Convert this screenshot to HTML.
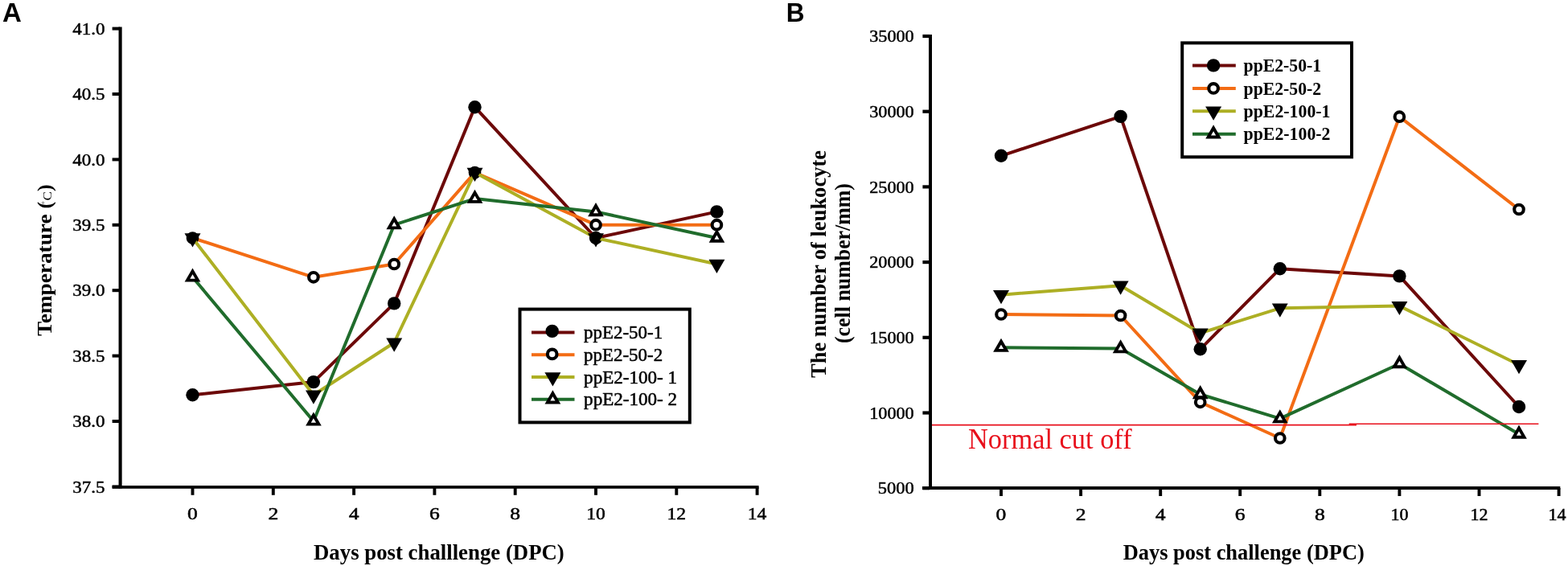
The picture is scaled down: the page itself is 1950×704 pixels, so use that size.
<!DOCTYPE html>
<html><head><meta charset="utf-8"><title>Temperature and leukocyte counts after challenge</title>
<style>html,body{margin:0;padding:0;background:#fff;} svg{display:block;}</style></head>
<body><svg width="1950" height="704" viewBox="0 0 1950 704">
<rect width="1950" height="704" fill="#fff"/>
<text x="3.0" y="27.4" font-family='"Liberation Sans", Arial, sans-serif' font-size="33" font-weight="bold" text-anchor="start" fill="#000" >A</text>
<g stroke="#000" fill="none">
<line x1="149.6" y1="33.5" x2="149.6" y2="607.6" stroke-width="4.1"/>
<line x1="139.6" y1="605.9" x2="943.6" y2="605.9" stroke-width="3.6"/>
<line x1="139.6" y1="35.6" x2="149" y2="35.6" stroke-width="4.0"/>
<line x1="139.6" y1="117.0" x2="149" y2="117.0" stroke-width="4.0"/>
<line x1="139.6" y1="198.4" x2="149" y2="198.4" stroke-width="4.0"/>
<line x1="139.6" y1="279.8" x2="149" y2="279.8" stroke-width="4.0"/>
<line x1="139.6" y1="361.2" x2="149" y2="361.2" stroke-width="4.0"/>
<line x1="139.6" y1="442.6" x2="149" y2="442.6" stroke-width="4.0"/>
<line x1="139.6" y1="524.0" x2="149" y2="524.0" stroke-width="4.0"/>
<line x1="139.6" y1="605.4" x2="149" y2="605.4" stroke-width="4.0"/>
<line x1="239.5" y1="606" x2="239.5" y2="615.8" stroke-width="3.9"/>
<line x1="339.8" y1="606" x2="339.8" y2="615.8" stroke-width="3.9"/>
<line x1="440.1" y1="606" x2="440.1" y2="615.8" stroke-width="3.9"/>
<line x1="540.4" y1="606" x2="540.4" y2="615.8" stroke-width="3.9"/>
<line x1="640.7" y1="606" x2="640.7" y2="615.8" stroke-width="3.9"/>
<line x1="741.0" y1="606" x2="741.0" y2="615.8" stroke-width="3.9"/>
<line x1="841.3" y1="606" x2="841.3" y2="615.8" stroke-width="3.9"/>
<line x1="941.6" y1="606" x2="941.6" y2="615.8" stroke-width="3.9"/>
</g>
<text x="130.5" y="42.8" font-family='"Liberation Serif", "Times New Roman", serif' font-size="21.3" font-weight="normal" text-anchor="end" fill="#000" textLength="40.2" lengthAdjust="spacingAndGlyphs"  stroke="#000" stroke-width="0.5">41.0</text>
<text x="130.5" y="124.2" font-family='"Liberation Serif", "Times New Roman", serif' font-size="21.3" font-weight="normal" text-anchor="end" fill="#000" textLength="40.2" lengthAdjust="spacingAndGlyphs"  stroke="#000" stroke-width="0.5">40.5</text>
<text x="130.5" y="205.6" font-family='"Liberation Serif", "Times New Roman", serif' font-size="21.3" font-weight="normal" text-anchor="end" fill="#000" textLength="40.2" lengthAdjust="spacingAndGlyphs"  stroke="#000" stroke-width="0.5">40.0</text>
<text x="130.5" y="287.0" font-family='"Liberation Serif", "Times New Roman", serif' font-size="21.3" font-weight="normal" text-anchor="end" fill="#000" textLength="40.2" lengthAdjust="spacingAndGlyphs"  stroke="#000" stroke-width="0.5">39.5</text>
<text x="130.5" y="368.4" font-family='"Liberation Serif", "Times New Roman", serif' font-size="21.3" font-weight="normal" text-anchor="end" fill="#000" textLength="40.2" lengthAdjust="spacingAndGlyphs"  stroke="#000" stroke-width="0.5">39.0</text>
<text x="130.5" y="449.8" font-family='"Liberation Serif", "Times New Roman", serif' font-size="21.3" font-weight="normal" text-anchor="end" fill="#000" textLength="40.2" lengthAdjust="spacingAndGlyphs"  stroke="#000" stroke-width="0.5">38.5</text>
<text x="130.5" y="531.2" font-family='"Liberation Serif", "Times New Roman", serif' font-size="21.3" font-weight="normal" text-anchor="end" fill="#000" textLength="40.2" lengthAdjust="spacingAndGlyphs"  stroke="#000" stroke-width="0.5">38.0</text>
<text x="130.5" y="612.6" font-family='"Liberation Serif", "Times New Roman", serif' font-size="21.3" font-weight="normal" text-anchor="end" fill="#000" textLength="40.2" lengthAdjust="spacingAndGlyphs"  stroke="#000" stroke-width="0.5">37.5</text>
<text x="239.5" y="645.8" font-family='"Liberation Serif", "Times New Roman", serif' font-size="20.8" font-weight="normal" text-anchor="middle" fill="#000" textLength="12.8" lengthAdjust="spacingAndGlyphs"  stroke="#000" stroke-width="0.5">0</text>
<text x="339.8" y="645.8" font-family='"Liberation Serif", "Times New Roman", serif' font-size="20.8" font-weight="normal" text-anchor="middle" fill="#000" textLength="12.8" lengthAdjust="spacingAndGlyphs"  stroke="#000" stroke-width="0.5">2</text>
<text x="440.1" y="645.8" font-family='"Liberation Serif", "Times New Roman", serif' font-size="20.8" font-weight="normal" text-anchor="middle" fill="#000" textLength="12.8" lengthAdjust="spacingAndGlyphs"  stroke="#000" stroke-width="0.5">4</text>
<text x="540.4" y="645.8" font-family='"Liberation Serif", "Times New Roman", serif' font-size="20.8" font-weight="normal" text-anchor="middle" fill="#000" textLength="12.8" lengthAdjust="spacingAndGlyphs"  stroke="#000" stroke-width="0.5">6</text>
<text x="640.7" y="645.8" font-family='"Liberation Serif", "Times New Roman", serif' font-size="20.8" font-weight="normal" text-anchor="middle" fill="#000" textLength="12.8" lengthAdjust="spacingAndGlyphs"  stroke="#000" stroke-width="0.5">8</text>
<text x="741.0" y="645.8" font-family='"Liberation Serif", "Times New Roman", serif' font-size="20.8" font-weight="normal" text-anchor="middle" fill="#000" textLength="23.6" lengthAdjust="spacingAndGlyphs"  stroke="#000" stroke-width="0.5">10</text>
<text x="841.3" y="645.8" font-family='"Liberation Serif", "Times New Roman", serif' font-size="20.8" font-weight="normal" text-anchor="middle" fill="#000" textLength="23.6" lengthAdjust="spacingAndGlyphs"  stroke="#000" stroke-width="0.5">12</text>
<text x="941.6" y="645.8" font-family='"Liberation Serif", "Times New Roman", serif' font-size="20.8" font-weight="normal" text-anchor="middle" fill="#000" textLength="23.6" lengthAdjust="spacingAndGlyphs"  stroke="#000" stroke-width="0.5">14</text>
<text x="390.0" y="695.9" font-family='"Liberation Serif", "Times New Roman", serif' font-size="26.5" font-weight="bold" text-anchor="start" fill="#000" textLength="311.8" lengthAdjust="spacingAndGlyphs" >Days post challlenge (DPC)</text>
<g transform="translate(64.4,418) rotate(-90)"><text x="0" y="0" font-family='"Liberation Serif", "Times New Roman", serif' font-size="26" font-weight="bold" text-anchor="start" fill="#000" textLength="151.6" lengthAdjust="spacingAndGlyphs" >Temperature</text><text x="158.6" y="0" font-family='"Liberation Serif", "Times New Roman", serif' font-size="26" font-weight="bold" text-anchor="start" fill="#000" >(</text><text x="164.0" y="-6.5" font-family='"Liberation Serif", "Times New Roman", serif' font-size="9" font-weight="normal" text-anchor="start" fill="#000" >°</text><text x="168.6" y="0" font-family='"Liberation Serif", "Times New Roman", serif' font-size="15.5" font-weight="normal" text-anchor="start" fill="#000" textLength="11.4" lengthAdjust="spacingAndGlyphs" >C</text><text x="180.0" y="0" font-family='"Liberation Serif", "Times New Roman", serif' font-size="26" font-weight="bold" text-anchor="start" fill="#000" >)</text></g>
<polyline points="239.5,491.3 389.9,475.1 490.2,377.4 590.5,133.2 741.0,296.0 891.4,263.4" fill="none" stroke="#6c0808" stroke-width="4.0" stroke-linejoin="round"/><circle cx="239.5" cy="491.3" r="8.2" fill="#000"/><circle cx="389.9" cy="475.1" r="8.2" fill="#000"/><circle cx="490.2" cy="377.4" r="8.2" fill="#000"/><circle cx="590.5" cy="133.2" r="8.2" fill="#000"/><circle cx="741.0" cy="296.0" r="8.2" fill="#000"/><circle cx="891.4" cy="263.4" r="8.2" fill="#000"/>
<polyline points="239.5,296.0 389.9,344.8 490.2,328.5 590.5,214.6 741.0,279.7 891.4,279.7" fill="none" stroke="#f36c14" stroke-width="4.0" stroke-linejoin="round"/><circle cx="239.5" cy="296.0" r="5.8" fill="#fff" stroke="#000" stroke-width="4.1"/><circle cx="389.9" cy="344.8" r="5.8" fill="#fff" stroke="#000" stroke-width="4.1"/><circle cx="490.2" cy="328.5" r="5.8" fill="#fff" stroke="#000" stroke-width="4.1"/><circle cx="590.5" cy="214.6" r="5.8" fill="#fff" stroke="#000" stroke-width="4.1"/><circle cx="741.0" cy="279.7" r="5.8" fill="#fff" stroke="#000" stroke-width="4.1"/><circle cx="891.4" cy="279.7" r="5.8" fill="#fff" stroke="#000" stroke-width="4.1"/>
<polyline points="239.5,296.0 389.9,491.3 490.2,426.2 590.5,214.6 741.0,296.0 891.4,328.5" fill="none" stroke="#adaf24" stroke-width="4.0" stroke-linejoin="round"/><polygon points="229.5,290.2 249.5,290.2 239.5,307.5" fill="#000"/><polygon points="380.0,485.6 399.9,485.6 389.9,502.8" fill="#000"/><polygon points="480.3,420.5 500.2,420.5 490.2,437.7" fill="#000"/><polygon points="580.6,208.8 600.5,208.8 590.5,226.1" fill="#000"/><polygon points="731.0,290.2 751.0,290.2 741.0,307.5" fill="#000"/><polygon points="881.5,322.8 901.4,322.8 891.4,340.0" fill="#000"/>
<polyline points="239.5,344.8 389.9,523.9 490.2,279.7 590.5,247.1 741.0,263.4 891.4,296.0" fill="none" stroke="#206c2c" stroke-width="4.0" stroke-linejoin="round"/><polygon points="233.0,348.6 246.0,348.6 239.5,337.3" fill="#fff" stroke="#000" stroke-width="3.9" stroke-linejoin="miter"/><polygon points="383.5,527.6 396.4,527.6 389.9,516.4" fill="#fff" stroke="#000" stroke-width="3.9" stroke-linejoin="miter"/><polygon points="483.8,283.4 496.7,283.4 490.2,272.2" fill="#fff" stroke="#000" stroke-width="3.9" stroke-linejoin="miter"/><polygon points="584.1,250.9 597.0,250.9 590.5,239.6" fill="#fff" stroke="#000" stroke-width="3.9" stroke-linejoin="miter"/><polygon points="734.5,267.2 747.5,267.2 741.0,255.9" fill="#fff" stroke="#000" stroke-width="3.9" stroke-linejoin="miter"/><polygon points="885.0,299.7 897.9,299.7 891.4,288.5" fill="#fff" stroke="#000" stroke-width="3.9" stroke-linejoin="miter"/>
<rect x="646.5" y="384.6" width="211.3" height="140.8" fill="#fff" stroke="#000" stroke-width="4"/>
<line x1="661" y1="413.5" x2="714.5" y2="413.5" stroke="#6c0808" stroke-width="4.0"/>
<circle cx="686.7" cy="411.9" r="8.2" fill="#000"/>
<line x1="661" y1="441.2" x2="714.5" y2="441.2" stroke="#f36c14" stroke-width="4.0"/>
<circle cx="686.7" cy="440.4" r="5.8" fill="#fff" stroke="#000" stroke-width="4.1"/>
<line x1="661" y1="469.0" x2="714.5" y2="469.0" stroke="#adaf24" stroke-width="4.0"/>
<polygon points="677.4,463.2 697.4,463.2 687.4,480.5" fill="#000"/>
<line x1="661" y1="496.8" x2="714.5" y2="496.8" stroke="#206c2c" stroke-width="4.0"/>
<polygon points="680.9,500.5 693.9,500.5 687.4,489.2" fill="#fff" stroke="#000" stroke-width="3.9" stroke-linejoin="miter"/>
<text x="726.1" y="421.1" font-family='"Liberation Serif", "Times New Roman", serif' font-size="22.5" font-weight="normal" text-anchor="start" fill="#000" textLength="98" lengthAdjust="spacingAndGlyphs" xml:space="preserve" stroke="#000" stroke-width="0.5">ppE2-50-1</text>
<text x="726.1" y="448.9" font-family='"Liberation Serif", "Times New Roman", serif' font-size="22.5" font-weight="normal" text-anchor="start" fill="#000" textLength="98" lengthAdjust="spacingAndGlyphs" xml:space="preserve" stroke="#000" stroke-width="0.5">ppE2-50-2</text>
<text x="726.1" y="476.6" font-family='"Liberation Serif", "Times New Roman", serif' font-size="22.5" font-weight="normal" text-anchor="start" fill="#000" textLength="116" lengthAdjust="spacingAndGlyphs" xml:space="preserve" stroke="#000" stroke-width="0.5">ppE2-100- 1</text>
<text x="726.1" y="504.4" font-family='"Liberation Serif", "Times New Roman", serif' font-size="22.5" font-weight="normal" text-anchor="start" fill="#000" textLength="116" lengthAdjust="spacingAndGlyphs" xml:space="preserve" stroke="#000" stroke-width="0.5">ppE2-100- 2</text>
<text x="977.8" y="27.4" font-family='"Liberation Sans", Arial, sans-serif' font-size="33" font-weight="bold" text-anchor="start" fill="#000" textLength="22.8" lengthAdjust="spacingAndGlyphs" >B</text>
<g stroke="#000" fill="none">
<line x1="1157" y1="43" x2="1157" y2="609" stroke-width="4"/>
<line x1="1147" y1="607" x2="1940.3" y2="607" stroke-width="4"/>
<line x1="1147.4" y1="45.0" x2="1156" y2="45.0" stroke-width="4.2"/>
<line x1="1147.4" y1="138.7" x2="1156" y2="138.7" stroke-width="4.2"/>
<line x1="1147.4" y1="232.4" x2="1156" y2="232.4" stroke-width="4.2"/>
<line x1="1147.4" y1="326.1" x2="1156" y2="326.1" stroke-width="4.2"/>
<line x1="1147.4" y1="419.8" x2="1156" y2="419.8" stroke-width="4.2"/>
<line x1="1147.4" y1="513.5" x2="1156" y2="513.5" stroke-width="4.2"/>
<line x1="1147.4" y1="607.2" x2="1156" y2="607.2" stroke-width="4.2"/>
<line x1="1245.0" y1="607" x2="1245.0" y2="617" stroke-width="3.9"/>
<line x1="1344.1" y1="607" x2="1344.1" y2="617" stroke-width="3.9"/>
<line x1="1443.2" y1="607" x2="1443.2" y2="617" stroke-width="3.9"/>
<line x1="1542.2" y1="607" x2="1542.2" y2="617" stroke-width="3.9"/>
<line x1="1641.3" y1="607" x2="1641.3" y2="617" stroke-width="3.9"/>
<line x1="1740.4" y1="607" x2="1740.4" y2="617" stroke-width="3.9"/>
<line x1="1839.5" y1="607" x2="1839.5" y2="617" stroke-width="3.9"/>
<line x1="1938.6" y1="607" x2="1938.6" y2="617" stroke-width="3.9"/>
</g>
<text x="1136.7" y="52.2" font-family='"Liberation Serif", "Times New Roman", serif' font-size="21.2" font-weight="normal" text-anchor="end" fill="#000" textLength="55.5" lengthAdjust="spacingAndGlyphs"  stroke="#000" stroke-width="0.5">35000</text>
<text x="1136.7" y="145.9" font-family='"Liberation Serif", "Times New Roman", serif' font-size="21.2" font-weight="normal" text-anchor="end" fill="#000" textLength="55.5" lengthAdjust="spacingAndGlyphs"  stroke="#000" stroke-width="0.5">30000</text>
<text x="1136.7" y="239.6" font-family='"Liberation Serif", "Times New Roman", serif' font-size="21.2" font-weight="normal" text-anchor="end" fill="#000" textLength="55.5" lengthAdjust="spacingAndGlyphs"  stroke="#000" stroke-width="0.5">25000</text>
<text x="1136.7" y="333.3" font-family='"Liberation Serif", "Times New Roman", serif' font-size="21.2" font-weight="normal" text-anchor="end" fill="#000" textLength="55.5" lengthAdjust="spacingAndGlyphs"  stroke="#000" stroke-width="0.5">20000</text>
<text x="1136.7" y="427.0" font-family='"Liberation Serif", "Times New Roman", serif' font-size="21.2" font-weight="normal" text-anchor="end" fill="#000" textLength="55.5" lengthAdjust="spacingAndGlyphs"  stroke="#000" stroke-width="0.5">15000</text>
<text x="1136.7" y="520.7" font-family='"Liberation Serif", "Times New Roman", serif' font-size="21.2" font-weight="normal" text-anchor="end" fill="#000" textLength="55.5" lengthAdjust="spacingAndGlyphs"  stroke="#000" stroke-width="0.5">10000</text>
<text x="1136.7" y="614.4" font-family='"Liberation Serif", "Times New Roman", serif' font-size="21.2" font-weight="normal" text-anchor="end" fill="#000" textLength="45" lengthAdjust="spacingAndGlyphs"  stroke="#000" stroke-width="0.5">5000</text>
<text x="1245.0" y="647" font-family='"Liberation Serif", "Times New Roman", serif' font-size="20.5" font-weight="normal" text-anchor="middle" fill="#000" textLength="12.8" lengthAdjust="spacingAndGlyphs"  stroke="#000" stroke-width="0.5">0</text>
<text x="1344.1" y="647" font-family='"Liberation Serif", "Times New Roman", serif' font-size="20.5" font-weight="normal" text-anchor="middle" fill="#000" textLength="12.8" lengthAdjust="spacingAndGlyphs"  stroke="#000" stroke-width="0.5">2</text>
<text x="1443.2" y="647" font-family='"Liberation Serif", "Times New Roman", serif' font-size="20.5" font-weight="normal" text-anchor="middle" fill="#000" textLength="12.8" lengthAdjust="spacingAndGlyphs"  stroke="#000" stroke-width="0.5">4</text>
<text x="1542.2" y="647" font-family='"Liberation Serif", "Times New Roman", serif' font-size="20.5" font-weight="normal" text-anchor="middle" fill="#000" textLength="12.8" lengthAdjust="spacingAndGlyphs"  stroke="#000" stroke-width="0.5">6</text>
<text x="1641.3" y="647" font-family='"Liberation Serif", "Times New Roman", serif' font-size="20.5" font-weight="normal" text-anchor="middle" fill="#000" textLength="12.8" lengthAdjust="spacingAndGlyphs"  stroke="#000" stroke-width="0.5">8</text>
<text x="1740.4" y="647" font-family='"Liberation Serif", "Times New Roman", serif' font-size="20.5" font-weight="normal" text-anchor="middle" fill="#000" textLength="22.0" lengthAdjust="spacingAndGlyphs"  stroke="#000" stroke-width="0.5">10</text>
<text x="1839.5" y="647" font-family='"Liberation Serif", "Times New Roman", serif' font-size="20.5" font-weight="normal" text-anchor="middle" fill="#000" textLength="22.0" lengthAdjust="spacingAndGlyphs"  stroke="#000" stroke-width="0.5">12</text>
<text x="1936.6" y="647" font-family='"Liberation Serif", "Times New Roman", serif' font-size="20.5" font-weight="normal" text-anchor="middle" fill="#000" textLength="22.0" lengthAdjust="spacingAndGlyphs"  stroke="#000" stroke-width="0.5">14</text>
<text x="1396.7" y="695.9" font-family='"Liberation Serif", "Times New Roman", serif' font-size="26.5" font-weight="bold" text-anchor="start" fill="#000" textLength="300.1" lengthAdjust="spacingAndGlyphs" >Days post challenge (DPC)</text>
<g transform="translate(1027,470) rotate(-90)"><text x="0" y="0" font-family='"Liberation Serif", "Times New Roman", serif' font-size="26.5" font-weight="bold" text-anchor="start" fill="#000" textLength="283" lengthAdjust="spacingAndGlyphs" >The number of leukocyte</text></g>
<g transform="translate(1057,427) rotate(-90)"><text x="0" y="0" font-family='"Liberation Serif", "Times New Roman", serif' font-size="26.5" font-weight="bold" text-anchor="start" fill="#000" textLength="199" lengthAdjust="spacingAndGlyphs" >(cell number/mm)</text></g>
<text x="1204.0" y="557.7" font-family='"Liberation Serif", "Times New Roman", serif' font-size="35" font-weight="normal" text-anchor="start" fill="#e8101c" textLength="203.6" lengthAdjust="spacingAndGlyphs" >Normal cut off</text>
<polyline points="1245.0,193.8 1393.6,144.9 1492.7,434.3 1591.8,334.2 1740.4,343.4 1889.0,506.0" fill="none" stroke="#6c0808" stroke-width="4.0" stroke-linejoin="round"/><circle cx="1245.0" cy="193.8" r="8.2" fill="#000"/><circle cx="1393.6" cy="144.9" r="8.2" fill="#000"/><circle cx="1492.7" cy="434.3" r="8.2" fill="#000"/><circle cx="1591.8" cy="334.2" r="8.2" fill="#000"/><circle cx="1740.4" cy="343.4" r="8.2" fill="#000"/><circle cx="1889.0" cy="506.0" r="8.2" fill="#000"/>
<polyline points="1245.0,391.0 1393.6,392.5 1492.7,500.3 1591.8,545.0 1740.4,145.2 1889.0,260.5" fill="none" stroke="#f36c14" stroke-width="4.0" stroke-linejoin="round"/><circle cx="1245.0" cy="391.0" r="5.8" fill="#fff" stroke="#000" stroke-width="4.1"/><circle cx="1393.6" cy="392.5" r="5.8" fill="#fff" stroke="#000" stroke-width="4.1"/><circle cx="1492.7" cy="500.3" r="5.8" fill="#fff" stroke="#000" stroke-width="4.1"/><circle cx="1591.8" cy="545.0" r="5.8" fill="#fff" stroke="#000" stroke-width="4.1"/><circle cx="1740.4" cy="145.2" r="5.8" fill="#fff" stroke="#000" stroke-width="4.1"/><circle cx="1889.0" cy="260.5" r="5.8" fill="#fff" stroke="#000" stroke-width="4.1"/>
<polyline points="1245.0,366.7 1393.6,355.2 1492.7,414.3 1591.8,383.3 1740.4,380.6 1889.0,453.8" fill="none" stroke="#adaf24" stroke-width="4.0" stroke-linejoin="round"/><polygon points="1235.0,360.9 1255.0,360.9 1245.0,378.2" fill="#000"/><polygon points="1383.7,349.4 1403.6,349.4 1393.6,366.7" fill="#000"/><polygon points="1482.7,408.6 1502.7,408.6 1492.7,425.8" fill="#000"/><polygon points="1581.8,377.6 1601.7,377.6 1591.8,394.8" fill="#000"/><polygon points="1730.4,374.9 1750.4,374.9 1740.4,392.1" fill="#000"/><polygon points="1879.1,448.1 1899.0,448.1 1889.0,465.3" fill="#000"/>
<polyline points="1245.0,432.2 1393.6,433.6 1492.7,490.5 1591.8,520.6 1740.4,452.5 1889.0,540.0" fill="none" stroke="#206c2c" stroke-width="4.0" stroke-linejoin="round"/><polygon points="1238.5,435.9 1251.5,435.9 1245.0,424.7" fill="#fff" stroke="#000" stroke-width="3.9" stroke-linejoin="miter"/><polygon points="1387.1,437.4 1400.1,437.4 1393.6,426.1" fill="#fff" stroke="#000" stroke-width="3.9" stroke-linejoin="miter"/><polygon points="1486.2,494.2 1499.2,494.2 1492.7,483.0" fill="#fff" stroke="#000" stroke-width="3.9" stroke-linejoin="miter"/><polygon points="1585.3,524.4 1598.3,524.4 1591.8,513.1" fill="#fff" stroke="#000" stroke-width="3.9" stroke-linejoin="miter"/><polygon points="1733.9,456.2 1746.9,456.2 1740.4,445.0" fill="#fff" stroke="#000" stroke-width="3.9" stroke-linejoin="miter"/><polygon points="1882.5,543.8 1895.5,543.8 1889.0,532.5" fill="#fff" stroke="#000" stroke-width="3.9" stroke-linejoin="miter"/>
<line x1="1159" y1="528.7" x2="1687" y2="528.7" stroke="#e8101c" stroke-width="1.8"/>
<line x1="1677.7" y1="527.2" x2="1913.4" y2="527.2" stroke="#e8101c" stroke-width="1.6"/>
<rect x="1470.2" y="53.4" width="210.8" height="141.9" fill="#fff" stroke="#000" stroke-width="4"/>
<line x1="1483" y1="81.4" x2="1536.8" y2="81.4" stroke="#6c0808" stroke-width="4.0"/>
<circle cx="1509.1" cy="81.4" r="8.2" fill="#000"/>
<line x1="1483" y1="109.9" x2="1536.8" y2="109.9" stroke="#f36c14" stroke-width="4.0"/>
<circle cx="1509.1" cy="109.9" r="5.8" fill="#fff" stroke="#000" stroke-width="4.1"/>
<line x1="1483" y1="138.3" x2="1536.8" y2="138.3" stroke="#adaf24" stroke-width="4.0"/>
<polygon points="1499.1,132.6 1519.1,132.6 1509.1,149.8" fill="#000"/>
<line x1="1483" y1="166.8" x2="1536.8" y2="166.8" stroke="#206c2c" stroke-width="4.0"/>
<polygon points="1502.6,170.5 1515.6,170.5 1509.1,159.2" fill="#fff" stroke="#000" stroke-width="3.9" stroke-linejoin="miter"/>
<text x="1546.6" y="89.0" font-family='"Liberation Serif", "Times New Roman", serif' font-size="22.5" font-weight="bold" text-anchor="start" fill="#000" textLength="96.6" lengthAdjust="spacingAndGlyphs" >ppE2-50-1</text>
<text x="1546.6" y="117.5" font-family='"Liberation Serif", "Times New Roman", serif' font-size="22.5" font-weight="bold" text-anchor="start" fill="#000" textLength="96.6" lengthAdjust="spacingAndGlyphs" >ppE2-50-2</text>
<text x="1546.6" y="145.9" font-family='"Liberation Serif", "Times New Roman", serif' font-size="22.5" font-weight="bold" text-anchor="start" fill="#000" textLength="107.9" lengthAdjust="spacingAndGlyphs" >ppE2-100-1</text>
<text x="1546.6" y="174.3" font-family='"Liberation Serif", "Times New Roman", serif' font-size="22.5" font-weight="bold" text-anchor="start" fill="#000" textLength="107.9" lengthAdjust="spacingAndGlyphs" >ppE2-100-2</text>
</svg></body></html>
